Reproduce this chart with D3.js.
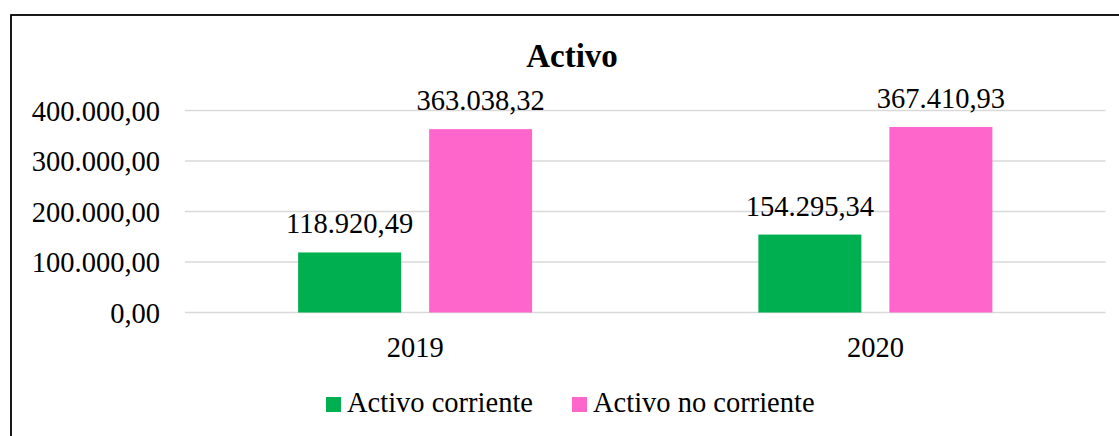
<!DOCTYPE html>
<html><head><meta charset="utf-8">
<script src="https://cdn.jsdelivr.net/npm/d3@7"></script>
<style>body{margin:0;background:#fff}svg{display:block}</style>
</head><body>
<svg id="c" width="1119" height="436"></svg>
<script>
const title = "Activo";
const categories = ["2019", "2020"];
const seriesNames = ["Activo corriente", "Activo no corriente"];
const activoCorriente = [118920.49, 154295.34];
const activoNoCorriente = [363038.32, 367410.93];
const tickValues = [0, 100000, 200000, 300000, 400000];
const colors = ["#00b050", "#ff66cc"];

(function () {
const svg = d3.select("#c");
const font = "'Liberation Serif','Times New Roman',serif";
const fs = 28.5;
const fmt = v => {
  const s = v.toFixed(2).split(".");
  return s[0].replace(/\B(?=(\d{3})+(?!\d))/g, ".") + "," + s[1];
};

// frame
svg.append("rect").attr("x", 11).attr("y", 15).attr("width", 1200).attr("height", 500)
  .attr("fill", "none").attr("stroke", "#000").attr("stroke-width", 1.8);

const pL = 185, pR = 1105.5, pT = 110.5, pB = 312.5;
const groupW = 234;
const y = d3.scaleLinear().domain([0, 400000]).range([pB, pT]);
const x0 = d3.scaleBand().domain(categories).range([pL, pR]).paddingInner(0).paddingOuter(0);
const x1 = d3.scaleBand().domain(seriesNames).range([0, groupW]).paddingInner(28/131).paddingOuter(0);

// grid
svg.append("g").selectAll("line").data(tickValues).join("line")
  .attr("x1", pL).attr("x2", pR).attr("y1", d => y(d)).attr("y2", d => y(d))
  .attr("stroke", "#d9d9d9").attr("stroke-width", 1.6);

// y labels
svg.append("g").selectAll("text").data(tickValues).join("text")
  .attr("x", 160).attr("y", d => y(d) + 10).attr("text-anchor", "end")
  .attr("font-family", font).attr("font-size", fs).attr("fill", "#000")
  .text(fmt);

// bars
const data = [];
categories.forEach((c, i) => {
  data.push({c, s: seriesNames[0], v: activoCorriente[i], k: 0});
  data.push({c, s: seriesNames[1], v: activoNoCorriente[i], k: 1});
});
const bx = d => x0(d.c) + x0.bandwidth()/2 - groupW/2 + x1(d.s);
const g = svg.append("g");
g.selectAll("rect").data(data).join("rect")
  .attr("x", bx)
  .attr("width", x1.bandwidth())
  .attr("y", d => y(d.v)).attr("height", d => y(0) - y(d.v))
  .attr("fill", d => colors[d.k]);
g.selectAll("text").data(data).join("text")
  .attr("x", d => bx(d) + x1.bandwidth()/2)
  .attr("y", d => y(d.v) - 19)
  .attr("text-anchor", "middle")
  .attr("font-family", font).attr("font-size", fs).attr("fill", "#000")
  .text(d => fmt(d.v));

// x labels
svg.append("g").selectAll("text").data(categories).join("text")
  .attr("x", d => x0(d) + x0.bandwidth()/2).attr("y", 357)
  .attr("text-anchor", "middle")
  .attr("font-family", font).attr("font-size", fs).attr("fill", "#000")
  .text(d => d);

// title
svg.append("text").attr("x", 572).attr("y", 67).attr("text-anchor", "middle")
  .attr("font-family", font).attr("font-size", 33).attr("font-weight", "bold").text(title);

// legend
const legX = [326, 572];
const leg = svg.append("g").selectAll("g").data(seriesNames).join("g")
  .attr("transform", (d, i) => `translate(${legX[i]},0)`);
leg.append("rect").attr("x", 0).attr("y", 397).attr("width", 15).attr("height", 15)
  .attr("fill", (d, i) => colors[i]);
leg.append("text").attr("x", 21).attr("y", 412)
  .attr("font-family", font).attr("font-size", fs).attr("fill", "#000").text(d => d);
})();
</script>
</body></html>
